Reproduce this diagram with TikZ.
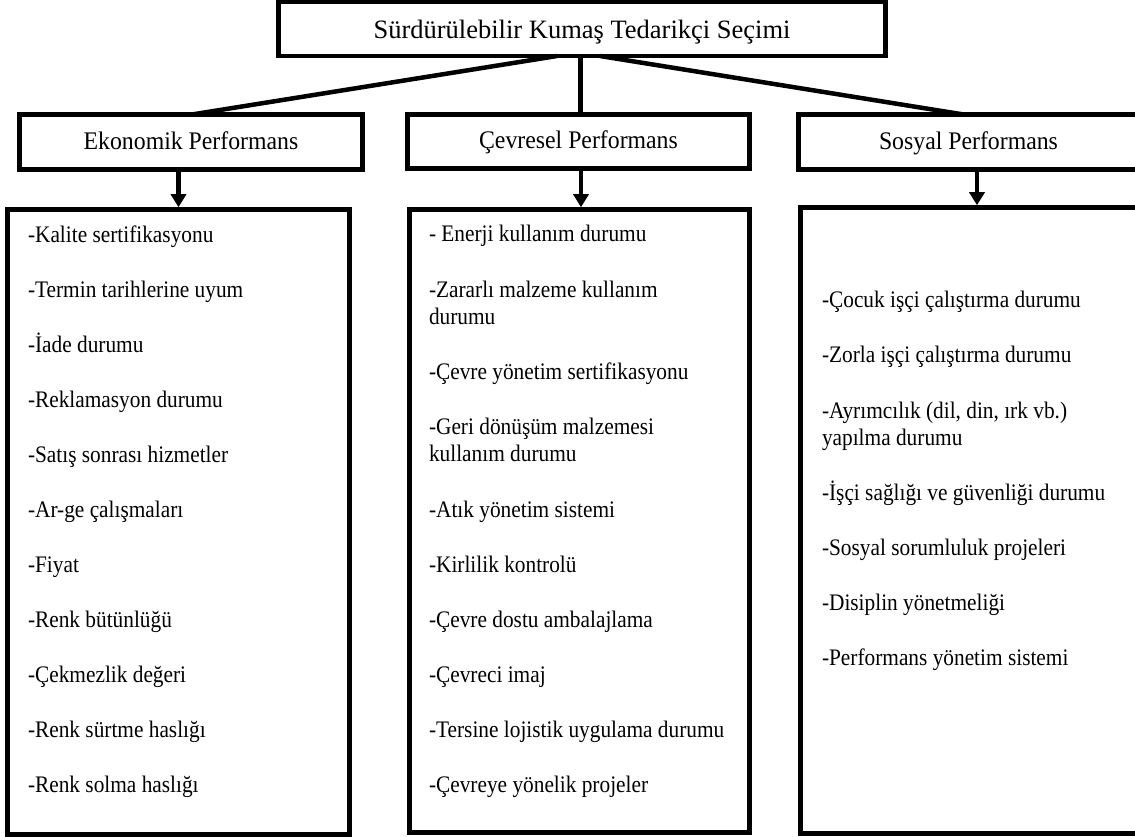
\documentclass[tikz,border=0pt]{standalone}
\usepackage{fontspec}
\setmainfont{Liberation Serif}
\newfontfamily\itemfont{Liberation Serif}[FakeStretch=0.9]
\newfontfamily\headfont{Liberation Serif}[FakeStretch=0.94]
\usetikzlibrary{arrows.meta}
\begin{document}
\begin{tikzpicture}[x=1pt,y=-1pt,
  box/.style={draw,line width=4.5pt,inner sep=0pt,outer sep=0pt},
  titletext/.style={font=\fontsize{26.5}{30}\selectfont,text height=20pt,text depth=0pt},
  headtext/.style={font=\headfont\fontsize{25.3}{28}\selectfont,text height=15pt,text depth=0pt},
  item/.style={anchor=base west,inner sep=0pt,outer sep=0pt,font=\itemfont\fontsize{23.7}{27.5}\selectfont},
  conn/.style={line width=4.5pt},
  arr/.style={line width=4.5pt,shorten >=2.25pt,-{Triangle[length=13pt,width=15pt]}}
]
\useasboundingbox (0,0) rectangle (1135,837);

% title
\node[box,titletext,minimum width=607pt,minimum height=54pt] (top) at (582,29) {Sürdürülebilir Kumaş Tedarikçi Seçimi};

% headings
\node[box,headtext,minimum width=343pt,minimum height=55pt] (eko) at (191,142) {Ekonomik Performans};
\node[box,headtext,minimum width=342pt,minimum height=54pt] (cev) at (578.5,141.5) {Çevresel Performans};
\node[box,headtext,minimum width=340pt,minimum height=55pt] (sos) at (968.5,142) {Sosyal Performans};

% list boxes
\node[box,minimum width=342pt,minimum height=625pt] (ekolist) at (178.5,522) {};
\node[box,minimum width=340pt,minimum height=623pt] (cevlist) at (579.5,521) {};
\node[box,minimum width=353pt,minimum height=626pt] (soslist) at (977,520.5) {};

% connectors
\draw[conn] ([xshift=-25pt]top.south) -- ([xshift=1pt]eko.north);
\draw[conn] ([xshift=2pt]cev.north |- top.south) -- ([xshift=2pt]cev.north);
\draw[conn] ([xshift=18pt]top.south) -- ([xshift=-5pt]sos.north);

\draw[arr] (ekolist.north |- eko.south) -- (ekolist.north);
\draw[arr] ([xshift=1.5pt]cevlist.north |- cev.south) -- ([xshift=1.5pt]cevlist.north);
\draw[arr] (soslist.north |- sos.south) -- (soslist.north);

% Ekonomik items
\node[item] (e1) at (28,242) {-Kalite sertifikasyonu};
\node[item] (e2) at (28,297) {-Termin tarihlerine uyum};
\node[item] (e3) at (28,352) {-İade durumu};
\node[item] (e4) at (28,407) {-Reklamasyon durumu};
\node[item] (e5) at (28,462) {-Satış sonrası hizmetler};
\node[item] (e6) at (28,517) {-Ar-ge çalışmaları};
\node[item] (e7) at (28,572) {-Fiyat};
\node[item] (e8) at (28,627) {-Renk bütünlüğü};
\node[item] (e9) at (28,682) {-Çekmezlik değeri};
\node[item] (e10) at (28,737) {-Renk sürtme haslığı};
\node[item] (e11) at (28,792) {-Renk solma haslığı};

% Cevresel items
\node[item] (c1) at (429,241) {- Enerji kullanım durumu};
\node[item] (c2) at (429,297) {\vtop{\hbox{-Zararlı malzeme kullanım}\hbox{durumu}}};
\node[item] (c3) at (429,379) {-Çevre yönetim sertifikasyonu};
\node[item] (c4) at (429,434) {\vtop{\hbox{-Geri dönüşüm malzemesi}\hbox{kullanım durumu}}};
\node[item] (c5) at (429,517) {-Atık yönetim sistemi};
\node[item] (c6) at (429,572) {-Kirlilik kontrolü};
\node[item] (c7) at (429,627) {-Çevre dostu ambalajlama};
\node[item] (c8) at (429,682) {-Çevreci imaj};
\node[item] (c9) at (429,737) {-Tersine lojistik uygulama durumu};
\node[item] (c10) at (429,792) {-Çevreye yönelik projeler};

% Sosyal items
\node[item] (s1) at (822,307) {-Çocuk işçi çalıştırma durumu};
\node[item] (s2) at (822,362) {-Zorla işçi çalıştırma durumu};
\node[item] (s3) at (822,418) {\vtop{\hbox{-Ayrımcılık (dil, din, ırk vb.)}\hbox{yapılma durumu}}};
\node[item] (s4) at (822,500) {-İşçi sağlığı ve güvenliği durumu};
\node[item] (s5) at (822,555) {-Sosyal sorumluluk projeleri};
\node[item] (s6) at (822,610) {-Disiplin yönetmeliği};
\node[item] (s7) at (822,665) {-Performans yönetim sistemi};
\end{tikzpicture}
\end{document}
